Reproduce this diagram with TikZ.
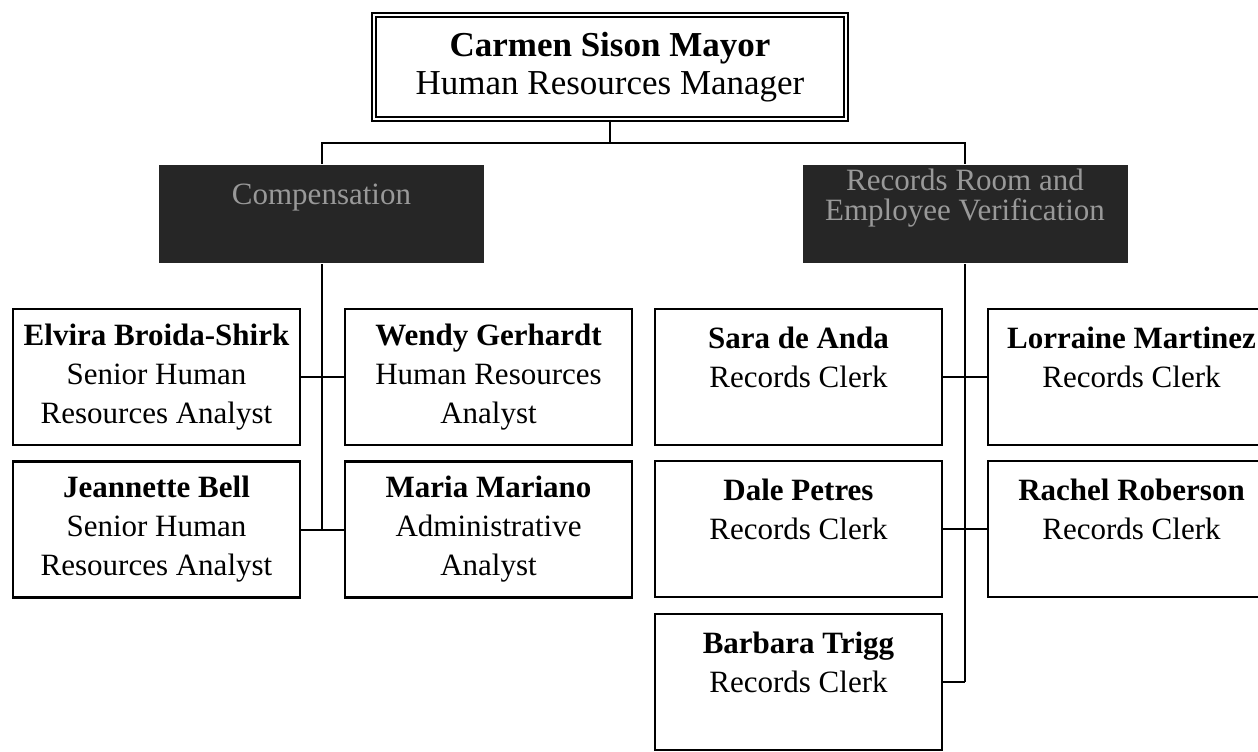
\documentclass[tikz,border=0pt]{standalone}
\usepackage{fontspec}
\setmainfont{Liberation Serif}
\usetikzlibrary{positioning}
\begin{document}
\begin{tikzpicture}[x=0.5pt,y=-0.5pt,line width=1pt,
    boss/.style={rectangle,draw,double,line width=0.9pt,double distance=1.2pt,minimum width=236pt,minimum height=52pt,inner sep=0pt,align=center,font=\fontsize{17.5}{19}\selectfont},
    unit/.style={rectangle,fill=black!85,text=black!40,minimum width=162.5pt,minimum height=49pt,inner sep=0pt,align=center,font=\fontsize{15.5}{15}\selectfont},
    person/.style={rectangle,draw,line width=1.1pt,minimum width=143.5pt,minimum height=68pt,inner sep=0pt,align=center,font=\fontsize{15.5}{19.5}\selectfont}]
            \useasboundingbox (0,0) rectangle (1258,751);

            \node [boss](1) at (610,67){\textbf{Carmen Sison Mayor}\\Human Resources Manager};

            \node [unit](2) at (321.5,214){Compensation\\\strut};
            \node [unit](3) at (965,214){Records Room and\\Employee Verification\\\strut};

            \node [person](4) at (156.5,377){\textbf{Elvira Broida-Shirk}\\Senior Human\\Resources Analyst};
            \node [person](5) [right of=4, node distance=166pt]{\textbf{Wendy Gerhardt}\\Human Resources\\Analyst};
            \node [person](6) [below of=4, node distance=76.25pt]{\textbf{Jeannette Bell}\\Senior Human\\Resources Analyst};
            \node [person](7) [right of=6, node distance=166pt]{\textbf{Maria Mariano}\\Administrative\\Analyst};

            \node [person](8) at (798.5,377){\textbf{Sara de Anda}\\Records Clerk\\\mbox{}};
            \node [person](9) [right of=8, node distance=166.5pt]{\textbf{Lorraine Martinez}\\Records Clerk\\\mbox{}};
            \node [person](10) [below of=8, node distance=76pt]{\textbf{Dale Petres}\\Records Clerk\\\mbox{}};
            \node [person](11) [right of=10, node distance=166.5pt]{\textbf{Rachel Roberson}\\Records Clerk\\\mbox{}};
            \node [person](12) [below of=10, node distance=76.5pt]{\textbf{Barbara Trigg}\\Records Clerk\\\mbox{}};

            \coordinate (t) at (1.south |- 0,143);

            \draw (1.south) -- (t);
            \draw (2.north) |- (t) -| (3.north);

            \draw (2.south) -- (2.south |- 6.east);
            \draw (4.east) -- (5.west);
            \draw (6.east) -- (7.west);

            \draw (3.south) -- (3.south |- 12.east);
            \draw (8.east) -- (9.west);
            \draw (10.east) -- (11.west);
            \draw (12.east) -- (3.south |- 12.east);
        \end{tikzpicture}
\end{document}
